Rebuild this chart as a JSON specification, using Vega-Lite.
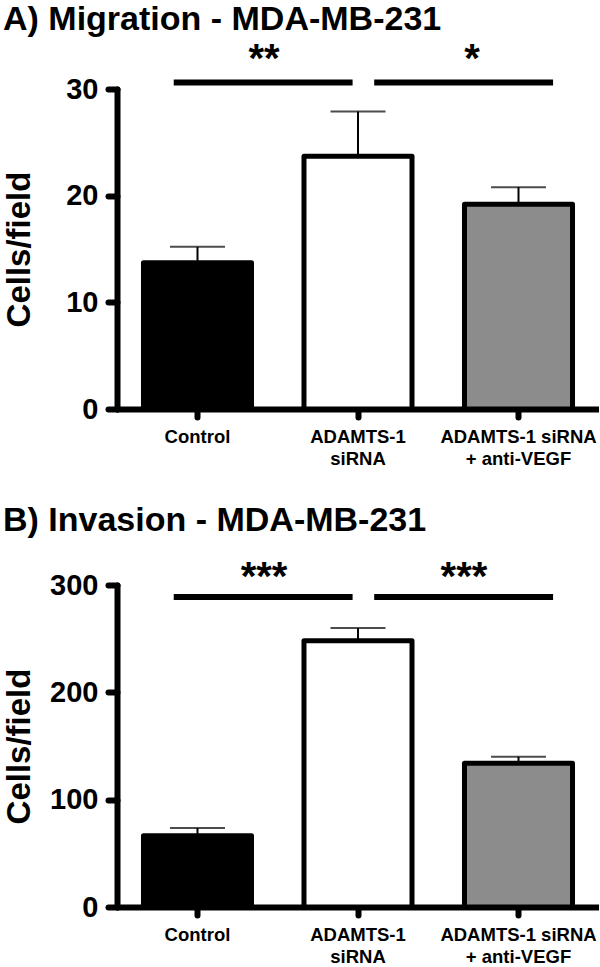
{
  "$schema": "https://vega.github.io/schema/vega-lite/v6.json",
  "padding": {"left": 3, "top": 2, "right": 0, "bottom": 0},
  "background": "white",
  "spacing": 36,
  "config": {
    "view": {"stroke": null},
    "font": "Liberation Sans",
    "title": {"fontSize": 34, "fontWeight": "bold", "anchor": "start", "frame": "bounds", "color": "black", "font": "Liberation Sans"},
    "axis": {"domainColor": "black", "tickColor": "black", "labelColor": "black", "titleColor": "black", "labelFont": "Liberation Sans", "titleFont": "Liberation Sans", "labelFontWeight": "bold", "titleFontWeight": "bold", "grid": false, "domainWidth": 6, "tickWidth": 6, "tickCap": "round", "domainCap": "round"}
  },
  "vconcat": [
    {
      "title": {"text": "A) Migration - MDA-MB-231", "offset": 3},
      "width": 482,
      "height": 320,
      "layer": [
        {
          "data": {"values": [
            {"cond": "Control", "mean": 13.7, "hi": 15.2},
            {"cond": "ADAMTS-1\nsiRNA", "mean": 23.7, "hi": 27.9},
            {"cond": "ADAMTS-1 siRNA\n+ anti-VEGF", "mean": 19.2, "hi": 20.8}
          ]},
          "encoding": {
            "x": {"field": "cond", "type": "nominal",
              "scale": {"domain": ["Control", "ADAMTS-1\nsiRNA", "ADAMTS-1 siRNA\n+ anti-VEGF"], "paddingInner": 0.327, "paddingOuter": 0.165},
              "axis": {"title": null, "labelFontSize": 18.5, "labelLineHeight": 22, "labelPadding": 10, "tickSize": 8, "labelAngle": 0, "labelDx": -5, "labelExpr": "split(datum.label, '\\n')"}}
          },
          "layer": [
            {"mark": {"type": "bar", "stroke": "black", "strokeWidth": 5, "strokeJoin": "round"},
             "encoding": {
               "y": {"field": "mean", "type": "quantitative", "scale": {"domain": [0, 30], "nice": false},
                 "axis": {"title": "Cells/field", "titleFontSize": 33, "labelFontSize": 29, "tickSize": 9, "labelPadding": 10, "titlePadding": 6, "minExtent": 75, "maxExtent": 75, "values": [0, 10, 20, 30]}},
               "fill": {"field": "cond", "type": "nominal", "scale": {"domain": ["Control", "ADAMTS-1\nsiRNA", "ADAMTS-1 siRNA\n+ anti-VEGF"], "range": ["#000000", "#ffffff", "#8c8c8c"]}, "legend": null}
             }},
            {"mark": {"type": "rule", "strokeWidth": 2, "color": "black"},
             "encoding": {"y": {"field": "mean", "type": "quantitative"}, "y2": {"field": "hi"}}},
            {"mark": {"type": "tick", "size": 55, "thickness": 2, "color": "black", "orient": "horizontal"},
             "encoding": {"y": {"field": "hi", "type": "quantitative"}}}
          ]
        },
        {
          "data": {"values": [{"from": "Control", "to": "ADAMTS-1\nsiRNA", "y": 30.6, "ly": 31.6, "label": "**"}]},
          "layer": [
            {"mark": {"type": "rule", "strokeWidth": 6, "color": "black"},
             "encoding": {"x": {"field": "from", "type": "nominal", "bandPosition": 0.28}, "x2": {"field": "to", "bandPosition": 0.45}, "y": {"field": "y", "type": "quantitative"}}},
            {"mark": {"type": "text", "fontSize": 40, "fontWeight": "bold", "baseline": "alphabetic", "align": "center", "font": "Liberation Sans"},
             "encoding": {"x": {"field": "from", "type": "nominal", "bandPosition": 1.116}, "y": {"field": "ly", "type": "quantitative"}, "text": {"field": "label"}}}
          ]
        },
        {
          "data": {"values": [{"from": "ADAMTS-1\nsiRNA", "to": "ADAMTS-1 siRNA\n+ anti-VEGF", "y": 30.6, "ly": 31.6, "label": "*"}]},
          "layer": [
            {"mark": {"type": "rule", "strokeWidth": 6, "color": "black"},
             "encoding": {"x": {"field": "from", "type": "nominal", "bandPosition": 0.65}, "x2": {"field": "to", "bandPosition": 0.82}, "y": {"field": "y", "type": "quantitative"}}},
            {"mark": {"type": "text", "fontSize": 40, "fontWeight": "bold", "baseline": "alphabetic", "align": "center", "font": "Liberation Sans"},
             "encoding": {"x": {"field": "from", "type": "nominal", "bandPosition": 1.556}, "y": {"field": "ly", "type": "quantitative"}, "text": {"field": "label"}}}
          ]
        }
      ]
    },
    {
      "title": {"text": "B) Invasion - MDA-MB-231", "offset": 20},
      "width": 482,
      "height": 322,
      "layer": [
        {
          "data": {"values": [
            {"cond": "Control", "mean": 66.4, "hi": 73.6},
            {"cond": "ADAMTS-1\nsiRNA", "mean": 248, "hi": 260},
            {"cond": "ADAMTS-1 siRNA\n+ anti-VEGF", "mean": 134, "hi": 140}
          ]},
          "encoding": {
            "x": {"field": "cond", "type": "nominal",
              "scale": {"domain": ["Control", "ADAMTS-1\nsiRNA", "ADAMTS-1 siRNA\n+ anti-VEGF"], "paddingInner": 0.327, "paddingOuter": 0.165},
              "axis": {"title": null, "labelFontSize": 18.5, "labelLineHeight": 22, "labelPadding": 10, "tickSize": 8, "labelAngle": 0, "labelDx": -5, "labelExpr": "split(datum.label, '\\n')"}}
          },
          "layer": [
            {"mark": {"type": "bar", "stroke": "black", "strokeWidth": 5, "strokeJoin": "round"},
             "encoding": {
               "y": {"field": "mean", "type": "quantitative", "scale": {"domain": [0, 300], "nice": false},
                 "axis": {"title": "Cells/field", "titleFontSize": 33, "labelFontSize": 29, "tickSize": 9, "labelPadding": 10, "titlePadding": 6, "minExtent": 75, "maxExtent": 75, "values": [0, 100, 200, 300]}},
               "fill": {"field": "cond", "type": "nominal", "scale": {"domain": ["Control", "ADAMTS-1\nsiRNA", "ADAMTS-1 siRNA\n+ anti-VEGF"], "range": ["#000000", "#ffffff", "#8c8c8c"]}, "legend": null}
             }},
            {"mark": {"type": "rule", "strokeWidth": 2, "color": "black"},
             "encoding": {"y": {"field": "mean", "type": "quantitative"}, "y2": {"field": "hi"}}},
            {"mark": {"type": "tick", "size": 55, "thickness": 2, "color": "black", "orient": "horizontal"},
             "encoding": {"y": {"field": "hi", "type": "quantitative"}}}
          ]
        },
        {
          "data": {"values": [{"from": "Control", "to": "ADAMTS-1\nsiRNA", "y": 288.8, "ly": 295.3, "label": "***"}]},
          "layer": [
            {"mark": {"type": "rule", "strokeWidth": 6, "color": "black"},
             "encoding": {"x": {"field": "from", "type": "nominal", "bandPosition": 0.28}, "x2": {"field": "to", "bandPosition": 0.45}, "y": {"field": "y", "type": "quantitative"}}},
            {"mark": {"type": "text", "fontSize": 40, "fontWeight": "bold", "baseline": "alphabetic", "align": "center", "font": "Liberation Sans"},
             "encoding": {"x": {"field": "from", "type": "nominal", "bandPosition": 1.116}, "y": {"field": "ly", "type": "quantitative"}, "text": {"field": "label"}}}
          ]
        },
        {
          "data": {"values": [{"from": "ADAMTS-1\nsiRNA", "to": "ADAMTS-1 siRNA\n+ anti-VEGF", "y": 288.8, "ly": 295.3, "label": "***"}]},
          "layer": [
            {"mark": {"type": "rule", "strokeWidth": 6, "color": "black"},
             "encoding": {"x": {"field": "from", "type": "nominal", "bandPosition": 0.65}, "x2": {"field": "to", "bandPosition": 0.82}, "y": {"field": "y", "type": "quantitative"}}},
            {"mark": {"type": "text", "fontSize": 40, "fontWeight": "bold", "baseline": "alphabetic", "align": "center", "font": "Liberation Sans"},
             "encoding": {"x": {"field": "from", "type": "nominal", "bandPosition": 1.481}, "y": {"field": "ly", "type": "quantitative"}, "text": {"field": "label"}}}
          ]
        }
      ]
    }
  ]
}
